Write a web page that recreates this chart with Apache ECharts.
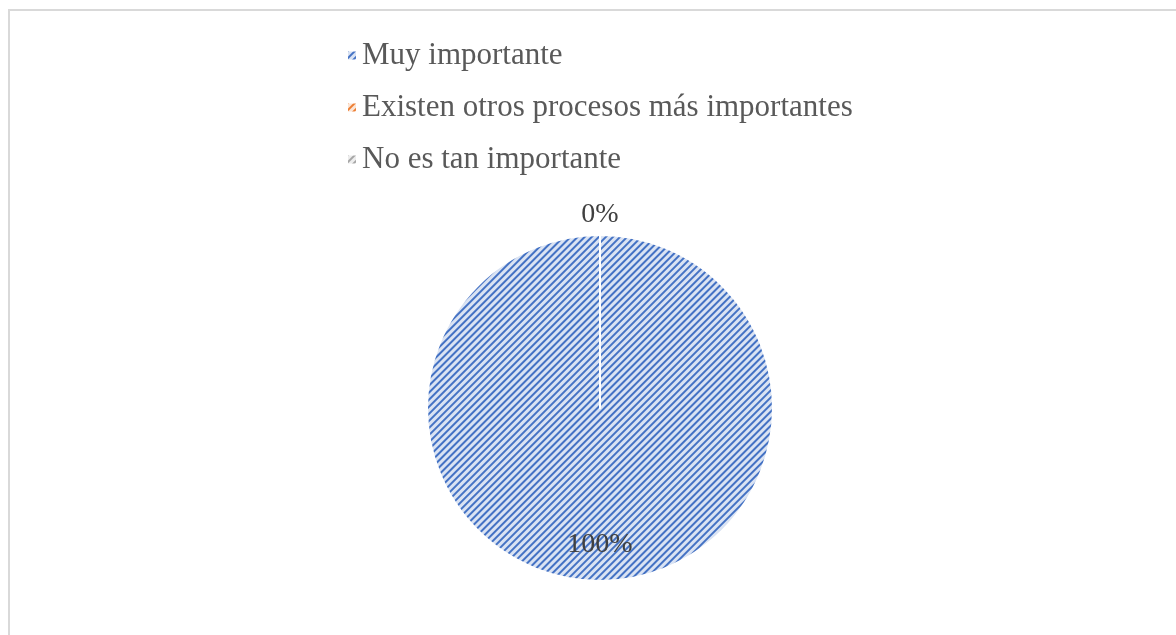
<!DOCTYPE html>
<html>
<head>
<meta charset="utf-8">
<script src="https://cdn.jsdelivr.net/npm/echarts@6/dist/echarts.min.js"></script>
<style>
  html, body { margin: 0; padding: 0; background: #ffffff; overflow: hidden; }
  #frame { position: absolute; left: 8px; top: 9px; width: 1200px; height: 660px; border: 2px solid #d9d9d9; box-sizing: border-box; }
  #chart { position: absolute; left: 0; top: 0; width: 1176px; height: 635px; }
</style>
</head>
<body>
<div id="frame"></div>
<div id="chart"></div>
<script>
const categories = ['Muy importante', 'Existen otros procesos más importantes', 'No es tan importante'];
const values = [100, 0, 0];

const lineColors = ['#4472c4', '#ed7d31', '#a5a5a5'];
const bgColors = ['#dae3f3', '#fbe5d6', '#ededed'];
const labelOffsets = [[0, 47], [0, -104], [0, -104]];

function makeDecal(i) {
  return {
    symbol: 'rect',
    symbolSize: 1,
    color: lineColors[i],
    backgroundColor: bgColors[i],
    dashArrayX: [1, 0],
    dashArrayY: [1.2, 3.0],
    rotation: -Math.PI / 4
  };
}

const chart = echarts.init(document.getElementById('chart'));

const data = categories.map((name, i) => ({
  name: name,
  value: values[i],
  itemStyle: { color: bgColors[i], decal: makeDecal(i) },
  label: { offset: labelOffsets[i] }
}));

chart.setOption({
  animation: false,
  aria: { enabled: true, decal: { show: true } },
  legend: {
    orient: 'vertical',
    left: 341,
    top: 35,
    itemWidth: 10,
    itemHeight: 10,
    itemGap: 21,
    icon: 'rect',
    textStyle: { fontFamily: 'Liberation Serif', fontSize: 31, color: '#595959', lineHeight: 30 },
    data: categories.map((name, i) => ({
      name: name,
      itemStyle: { color: bgColors[i], decal: makeDecal(i) }
    }))
  },
  series: [{
    type: 'pie',
    center: [600, 408],
    radius: 173,
    startAngle: 90,
    clockwise: true,
    avoidLabelOverlap: false,
    itemStyle: { borderColor: '#ffffff', borderWidth: 2 },
    label: {
      show: true,
      position: 'inside',
      formatter: '{d}%',
      fontFamily: 'Liberation Serif',
      fontSize: 28,
      color: '#404040'
    },
    labelLine: { show: false },
    emphasis: { disabled: true },
    data: data
  }]
});
</script>
</body>
</html>
